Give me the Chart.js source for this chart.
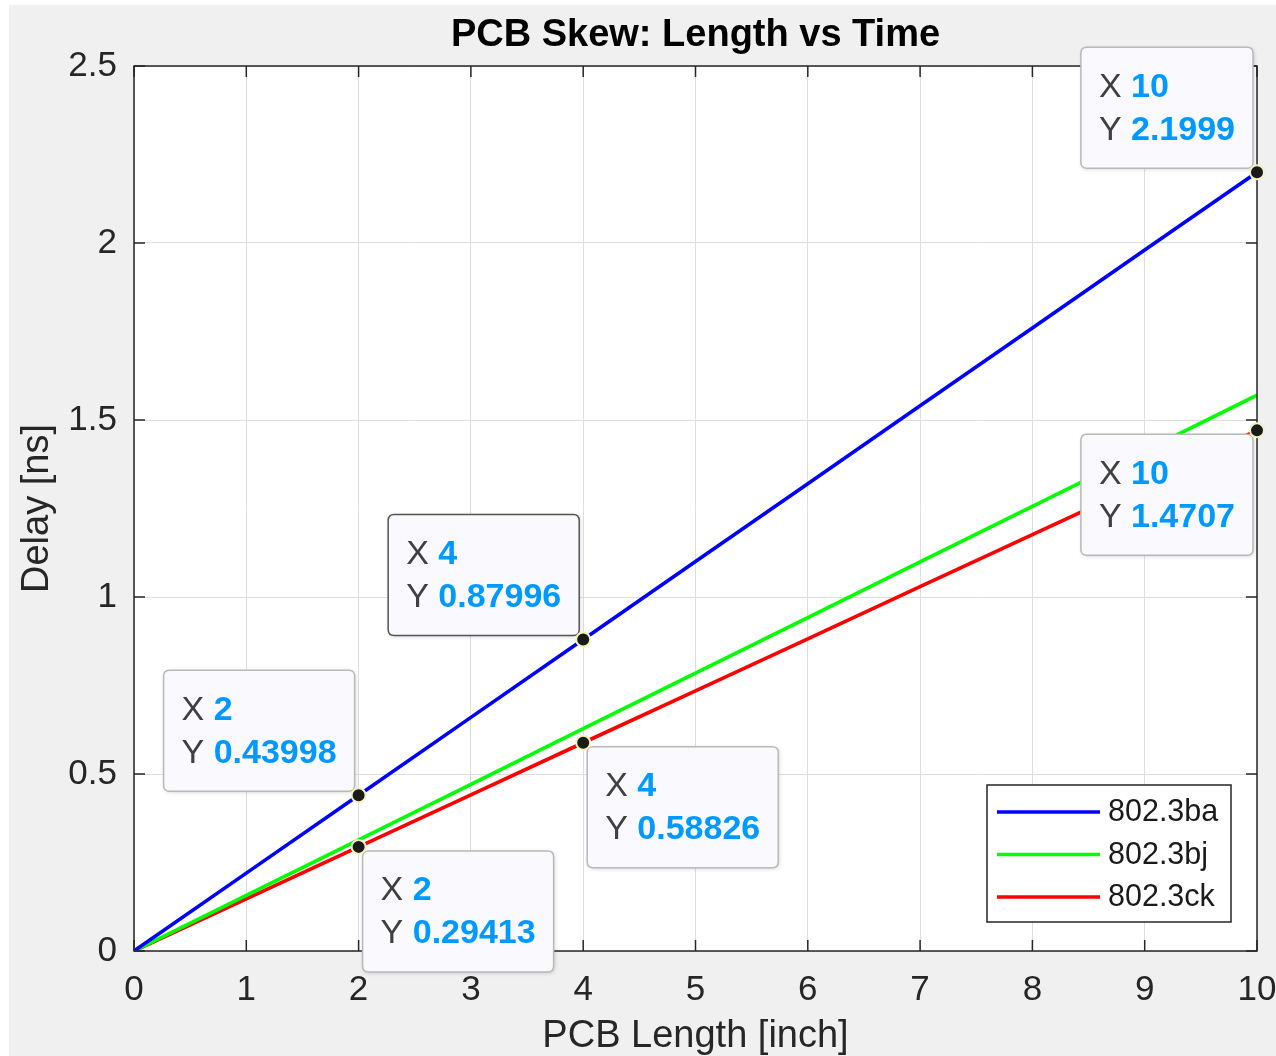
<!DOCTYPE html>
<html>
<head>
<meta charset="utf-8">
<script src="https://cdn.jsdelivr.net/npm/chart.js@4.4.1/dist/chart.umd.min.js"></script>
<style>
html,body{margin:0;padding:0;background:#fff;}
canvas{display:block;}
</style>
</head>
<body>
<canvas id="c" width="1276" height="1056"></canvas>
<script>
// ---- data ----
const xValues = [0, 1, 2, 3, 4, 5, 6, 7, 8, 9, 10];
const seriesBa = [0, 0.22, 0.43998, 0.66, 0.87996, 1.1, 1.32, 1.54, 1.76, 1.98, 2.1999];
const seriesBj = [0, 0.157, 0.314, 0.471, 0.628, 0.785, 0.942, 1.099, 1.256, 1.413, 1.57];
const seriesCk = [0, 0.147, 0.29413, 0.441, 0.58826, 0.735, 0.882, 1.029, 1.176, 1.323, 1.4707];
const seriesLabels = ['802.3ba', '802.3bj', '802.3ck'];
const seriesColors = ['#0000ff', '#00ff00', '#ff0000'];
const xTicks = [0, 1, 2, 3, 4, 5, 6, 7, 8, 9, 10];
const yTicks = [0, 0.5, 1, 1.5, 2, 2.5];
const titleText = 'PCB Skew: Length vs Time';
const xLabel = 'PCB Length [inch]';
const yLabel = 'Delay [ns]';
// datatips: series index, point index, placement
const tipSeries = [0, 0, 0, 2, 2, 2];
const tipIndex  = [10, 4, 2, 2, 4, 10];
const tipPlace  = ['nw', 'nw', 'nw', 'se', 'se', 'sw'];
const tipActive = [false, true, false, false, false, false];

const allSeries = [seriesBa, seriesBj, seriesCk];
const FONT = '"Liberation Sans", Arial, Helvetica, sans-serif';

const datasets = allSeries.map((s, i) => ({
  label: seriesLabels[i],
  data: xValues.map((x, j) => ({x: x, y: s[j]})),
  borderColor: seriesColors[i],
  backgroundColor: seriesColors[i],
  borderWidth: 3.6,
  pointRadius: 0,
  showLine: true,
  tension: 0
}));

function roundRect(ctx, x, y, w, h, r) {
  ctx.beginPath();
  ctx.moveTo(x + r, y);
  ctx.lineTo(x + w - r, y);
  ctx.quadraticCurveTo(x + w, y, x + w, y + r);
  ctx.lineTo(x + w, y + h - r);
  ctx.quadraticCurveTo(x + w, y + h, x + w - r, y + h);
  ctx.lineTo(x + r, y + h);
  ctx.quadraticCurveTo(x, y + h, x, y + h - r);
  ctx.lineTo(x, y + r);
  ctx.quadraticCurveTo(x, y, x + r, y);
  ctx.closePath();
}

const decor = {
  id: 'decor',
  beforeDraw(chart) {
    const ctx = chart.ctx, a = chart.chartArea;
    ctx.save();
    ctx.fillStyle = '#ffffff';
    ctx.fillRect(0, 0, chart.width, chart.height);
    ctx.fillStyle = '#f0f0f0';
    ctx.fillRect(9, 5, chart.width - 9, chart.height - 5);
    ctx.fillStyle = '#ffffff';
    ctx.fillRect(a.left, a.top, a.right - a.left, a.bottom - a.top);
    ctx.restore();
  },
  afterDatasetsDraw(chart) {
    const ctx = chart.ctx, a = chart.chartArea;
    const xs = chart.scales.x, ys = chart.scales.y;
    ctx.save();
    // box
    ctx.strokeStyle = '#262626';
    ctx.lineWidth = 1.5;
    ctx.strokeRect(a.left, a.top, a.right - a.left, a.bottom - a.top);
    // inward ticks
    ctx.beginPath();
    xTicks.forEach(v => {
      const px = xs.getPixelForValue(v);
      ctx.moveTo(px, a.bottom); ctx.lineTo(px, a.bottom - 11);
      ctx.moveTo(px, a.top); ctx.lineTo(px, a.top + 11);
    });
    yTicks.forEach(v => {
      const py = ys.getPixelForValue(v);
      ctx.moveTo(a.left, py); ctx.lineTo(a.left + 11, py);
      ctx.moveTo(a.right, py); ctx.lineTo(a.right - 11, py);
    });
    ctx.stroke();

    // title & axis labels
    ctx.fillStyle = '#000000';
    ctx.font = 'bold 38px ' + FONT;
    ctx.textAlign = 'center';
    ctx.textBaseline = 'middle';
    ctx.fillText(titleText, (a.left + a.right) / 2, 36);
    ctx.fillStyle = '#262626';
    ctx.font = '38px ' + FONT;
    ctx.fillText(xLabel, (a.left + a.right) / 2, 1037);
    ctx.save();
    ctx.translate(38, (a.top + a.bottom) / 2);
    ctx.rotate(-Math.PI / 2);
    ctx.fillText(yLabel, 0, 0);
    ctx.restore();

    // legend
    const lw = 244, lh = 137;
    const lx = a.right - 26 - lw, ly = a.bottom - 29 - lh;
    ctx.fillStyle = '#ffffff';
    ctx.fillRect(lx, ly, lw, lh);
    ctx.strokeStyle = '#262626';
    ctx.lineWidth = 1.5;
    ctx.strokeRect(lx, ly, lw, lh);
    ctx.font = '30.5px ' + FONT;
    ctx.textAlign = 'left';
    ctx.textBaseline = 'middle';
    seriesLabels.forEach((lab, i) => {
      const cy = ly + 27 + i * 42.5;
      ctx.strokeStyle = seriesColors[i];
      ctx.lineWidth = 3.6;
      ctx.beginPath();
      ctx.moveTo(lx + 10, cy); ctx.lineTo(lx + 113, cy);
      ctx.stroke();
      ctx.fillStyle = '#1a1a1a';
      ctx.fillText(lab, lx + 121, cy + 1);
    });

    // datatips
    const fs = 34;
    tipSeries.forEach((si, k) => {
      const idx = tipIndex[k];
      const xv = xValues[idx], yv = allSeries[si][idx];
      const px = xs.getPixelForValue(xv), py = ys.getPixelForValue(yv);
      const xs1 = String(xv), ys1 = String(yv);
      ctx.font = fs + 'px ' + FONT;
      const wX = ctx.measureText('X ').width, wY = ctx.measureText('Y ').width;
      ctx.font = 'bold ' + fs + 'px ' + FONT;
      const w1 = wX + ctx.measureText(xs1).width;
      const w2 = wY + ctx.measureText(ys1).width;
      const bw = Math.max(w1, w2) + 36, bh = 121;
      let bx, by;
      const off = 4;
      const pl = tipPlace[k];
      if (pl === 'nw') { bx = px - off - bw; by = py - off - bh; }
      else if (pl === 'se') { bx = px + off; by = py + off; }
      else if (pl === 'sw') { bx = px - off - bw; by = py + off; }
      else { bx = px + off; by = py - off - bh; }
      // shadow
      ctx.save();
      ctx.shadowColor = 'rgba(0,0,0,0.18)';
      ctx.shadowBlur = 4;
      ctx.shadowOffsetX = 1;
      ctx.shadowOffsetY = 1;
      roundRect(ctx, bx, by, bw, bh, 6);
      ctx.fillStyle = '#f9f9fe';
      ctx.fill();
      ctx.restore();
      roundRect(ctx, bx, by, bw, bh, 6);
      ctx.strokeStyle = tipActive[k] ? '#555555' : '#b9b9b9';
      ctx.lineWidth = 1.5;
      ctx.stroke();
      // text
      ctx.textAlign = 'left';
      ctx.textBaseline = 'middle';
      const tx = bx + 18;
      ctx.font = fs + 'px ' + FONT;
      ctx.fillStyle = '#404040';
      ctx.fillText('X ', tx, by + 40);
      ctx.fillText('Y ', tx, by + 83);
      ctx.font = 'bold ' + fs + 'px ' + FONT;
      ctx.fillStyle = '#0099ff';
      ctx.fillText(xs1, tx + wX, by + 40);
      ctx.fillText(ys1, tx + wY, by + 83);
      // marker
      ctx.beginPath();
      ctx.arc(px, py, 7, 0, Math.PI * 2);
      ctx.fillStyle = '#1a1a1a';
      ctx.fill();
      ctx.strokeStyle = '#f2f2c0';
      ctx.lineWidth = 2;
      ctx.stroke();
    });
    ctx.restore();
  }
};

new Chart(document.getElementById('c'), {
  type: 'scatter',
  data: { datasets: datasets },
  options: {
    responsive: false,
    animation: false,
    devicePixelRatio: 1,
    layout: { padding: { top: 66, right: 19, left: 0, bottom: 0 } },
    plugins: { legend: { display: false }, tooltip: { enabled: false }, title: { display: false } },
    scales: {
      x: {
        type: 'linear', min: 0, max: 10,
        afterFit(s) { s.height = 105; s.paddingLeft = 0; s.paddingRight = 0; },
        afterBuildTicks(s) { s.ticks = xTicks.map(v => ({value: v})); },
        grid: { color: '#dedede', lineWidth: 1, drawTicks: false },
        border: { display: false },
        ticks: { color: '#262626', font: { size: 35, family: FONT }, padding: 18, maxRotation: 0, autoSkip: false,
                 callback: v => String(v) }
      },
      y: {
        type: 'linear', min: 0, max: 2.5,
        afterFit(s) { s.width = 134; s.paddingTop = 0; s.paddingBottom = 0; },
        afterBuildTicks(s) { s.ticks = yTicks.map(v => ({value: v})); },
        grid: { color: '#dedede', lineWidth: 1, drawTicks: false },
        border: { display: false },
        ticks: { color: '#262626', font: { size: 35, family: FONT }, padding: 17, autoSkip: false,
                 callback: v => String(v) }
      }
    }
  },
  plugins: [decor]
});
</script>
</body>
</html>
